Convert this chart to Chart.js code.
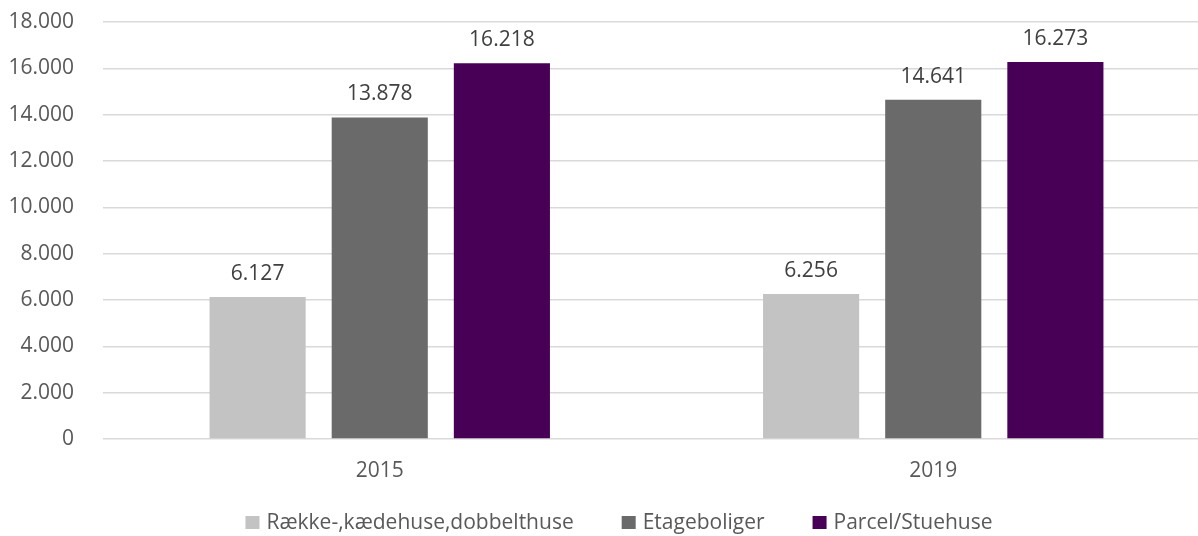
<!DOCTYPE html>
<html>
<head>
<meta charset="utf-8">
<script src="https://cdn.jsdelivr.net/npm/chart.js@4"></script>
<style>
html,body{margin:0;padding:0;background:#fff;overflow:hidden;}
#wrap{width:1210px;height:536px;position:relative;}
</style>
</head>
<body>
<div id="wrap"><canvas id="c"></canvas></div>
<script>
const categories = ['2015', '2019'];
const seriesNames = ['Række-,kædehuse,dobbelthuse', 'Etageboliger', 'Parcel/Stuehuse'];
const raekkehuse = [6127, 6256];
const etageboliger = [13878, 14641];
const parcelhuse = [16218, 16273];
const yTicks = [0, 2000, 4000, 6000, 8000, 10000, 12000, 14000, 16000, 18000];
const colors = ['#c3c3c3', '#6a6a6a', '#470055'];

const FONT = '"Open Sans", "Noto Sans", sans-serif';
const FS = 21;
const fmt = v => v.toLocaleString('da-DK');

const labelPlugin = {
  id: 'barLabels',
  afterDatasetsDraw(chart) {
    const ctx = chart.ctx;
    ctx.save();
    ctx.font = FS + 'px ' + FONT;
    ctx.fillStyle = '#404040';
    ctx.textAlign = 'center';
    ctx.textBaseline = 'alphabetic';
    chart.data.datasets.forEach((ds, i) => {
      chart.getDatasetMeta(i).data.forEach((el, j) => {
        ctx.fillText(fmt(ds.data[j]), el.x, el.y - 17);
      });
    });
    ctx.restore();
  }
};

const legendPlugin = {
  id: 'bottomLegend',
  afterDraw(chart) {
    const ctx = chart.ctx;
    ctx.save();
    ctx.font = FS + 'px ' + FONT;
    ctx.textBaseline = 'alphabetic';
    ctx.textAlign = 'left';
    const box = 14, gapText = 7, gapItem = 48, centerX = 619, baseY = 529;
    const items = chart.data.datasets.map(ds => ({ text: ds.label, color: ds.backgroundColor, w: ctx.measureText(ds.label).width }));
    const total = items.reduce((a, it) => a + box + gapText + it.w, 0) + gapItem * (items.length - 1);
    let x = centerX - total / 2;
    items.forEach(it => {
      ctx.fillStyle = it.color;
      ctx.fillRect(x, baseY - 13, box, 13);
      ctx.fillStyle = '#595959';
      ctx.fillText(it.text, x + box + gapText, baseY);
      x += box + gapText + it.w + gapItem;
    });
    ctx.restore();
  }
};

const data = [raekkehuse, etageboliger, parcelhuse];
new Chart(document.getElementById('c'), {
  type: 'bar',
  data: {
    labels: categories,
    datasets: seriesNames.map((n, i) => ({
      label: n,
      data: data[i],
      backgroundColor: colors[i],
      borderWidth: 0,
      categoryPercentage: 0.662,
      barPercentage: 0.787
    }))
  },
  options: {
    responsive: true,
    maintainAspectRatio: false,
    animation: false,
    layout: { padding: { top: 22, left: 0, right: 0, bottom: 40 } },
    plugins: {
      legend: { display: false },
      tooltip: { enabled: false }
    },
    scales: {
      x: {
        grid: { display: false, drawTicks: false },
        border: { display: false },
        ticks: { font: { size: FS, family: FONT }, color: '#595959', padding: 19 },
        afterFit(s) { s.height = 57; }
      },
      y: {
        min: 0,
        max: 18000,
        afterBuildTicks(s) { s.ticks = yTicks.map(v => ({ value: v })); },
        ticks: {
          font: { size: FS, family: FONT },
          color: '#595959',
          padding: 0,
          callback: v => fmt(v)
        },
        grid: { color: '#d9d9d9', lineWidth: 1.5, drawTicks: true, tickLength: 29, tickColor: 'rgba(0,0,0,0)' },
        border: { display: false },
        afterFit(s) { s.width = 103; }
      }
    }
  },
  plugins: [labelPlugin, legendPlugin]
});
</script>
</body>
</html>
